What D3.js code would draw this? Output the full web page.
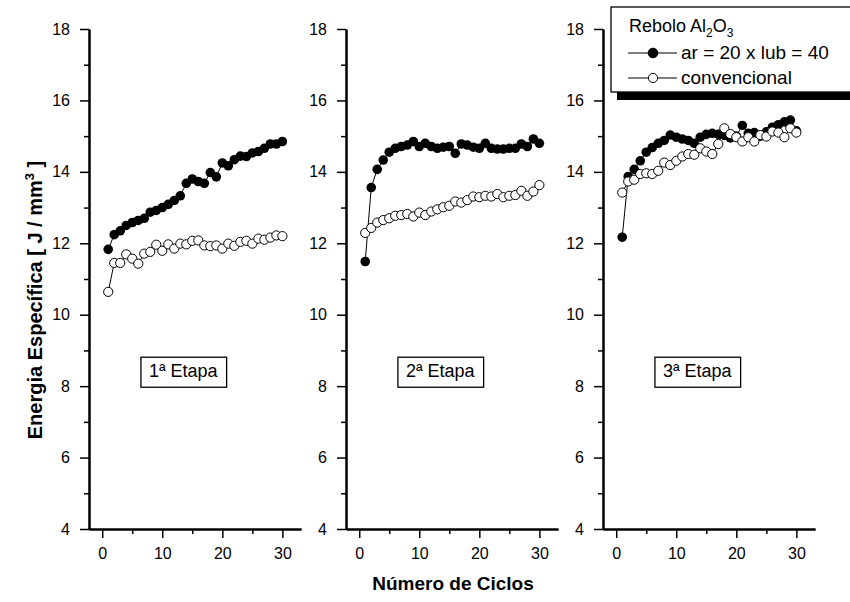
<!DOCTYPE html>
<html>
<head>
<meta charset="utf-8">
<script src="https://cdn.jsdelivr.net/npm/d3@7"></script>
<style>
  body { margin: 0; background: #fff; }
  text { font-family: "Liberation Sans", Arial, sans-serif; fill: #000; }
</style>
</head>
<body>
<div id="chart"></div>
<script>
// Data (cycles 1..30, energy in J/mm3)
let cycles = [1, 2, 3, 4, 5, 6, 7, 8, 9, 10, 11, 12, 13, 14, 15,
              16, 17, 18, 19, 20, 21, 22, 23, 24, 25, 26, 27, 28, 29, 30];

let stageNames = ["1ª Etapa", "2ª Etapa", "3ª Etapa"];
let seriesNames = ["ar = 20 x lub = 40", "convencional"];

// ar = 20 x lub = 40 (filled circles)
let arLub1 = [11.83, 12.24, 12.35, 12.50, 12.58, 12.64, 12.70, 12.87, 12.92, 13.00,
              13.09, 13.20, 13.33, 13.68, 13.80, 13.73, 13.68, 13.98, 13.86, 14.25,
              14.17, 14.34, 14.44, 14.43, 14.53, 14.57, 14.66, 14.78, 14.78, 14.85];
let arLub2 = [11.49, 13.56, 14.07, 14.33, 14.55, 14.66, 14.71, 14.75, 14.85, 14.71,
              14.80, 14.71, 14.66, 14.69, 14.71, 14.52, 14.78, 14.75, 14.69, 14.66,
              14.80, 14.66, 14.64, 14.64, 14.66, 14.66, 14.78, 14.71, 14.92, 14.80];
let arLub3 = [12.17, 13.87, 14.07, 14.31, 14.55, 14.68, 14.80, 14.88, 15.03, 14.97,
              14.92, 14.88, 14.80, 14.97, 15.05, 15.08, 15.05, 15.02, 14.95, 15.00,
              15.30, 15.08, 15.10, 15.00, 15.12, 15.25, 15.32, 15.40, 15.45, 15.15];

// convencional (open circles)
let conv1 = [10.64, 11.45, 11.45, 11.69, 11.57, 11.43, 11.71, 11.76, 11.96, 11.79,
             11.97, 11.85, 11.99, 11.97, 12.07, 12.08, 11.94, 11.92, 11.94, 11.85,
             11.99, 11.93, 12.04, 12.07, 11.99, 12.13, 12.10, 12.16, 12.22, 12.20];
let conv2 = [12.29, 12.43, 12.58, 12.65, 12.70, 12.77, 12.79, 12.82, 12.75, 12.86,
             12.79, 12.89, 12.95, 13.01, 13.05, 13.17, 13.14, 13.21, 13.31, 13.29,
             13.33, 13.31, 13.38, 13.29, 13.33, 13.35, 13.47, 13.33, 13.45, 13.63];
let conv3 = [13.42, 13.73, 13.78, 13.94, 13.96, 13.94, 14.03, 14.26, 14.19, 14.31,
             14.43, 14.50, 14.48, 14.66, 14.57, 14.50, 14.78, 15.22, 15.06, 14.97,
             14.85, 14.97, 14.85, 15.03, 14.99, 15.13, 15.10, 14.97, 15.22, 15.10];

let xTicks = [0, 10, 20, 30];
let xMinor = [5, 15, 25];
let yTicks = [4, 6, 8, 10, 12, 14, 16, 18];
let yMinor = [5, 7, 9, 11, 13, 15, 17];

let filledSeries = [arLub1, arLub2, arLub3];
let openSeries = [conv1, conv2, conv3];

// SVG size and panel geometry
let svgWidth = 850;
let svgHeight = 602;
let panelLeft = [89, 346, 603];
let panelWidth = 212;
let plotTop = 29;
let plotBottom = 529;

let svg = d3.select("#chart")
  .append("svg")
  .attr("width", svgWidth)
  .attr("height", svgHeight);

let yScale = d3.scaleLinear()
  .domain([4, 18])
  .range([plotBottom, plotTop]);

for (let p = 0; p < 3; p++) {
  let g = svg.append("g")
    .attr("transform", `translate(${panelLeft[p]}, 0)`);

  let xScale = d3.scaleLinear()
    .domain([-2.2, 33.1])
    .range([0, panelWidth]);

  // minor ticks first, then major
  g.append("g")
    .attr("class", "axis")
    .attr("transform", `translate(0, ${plotBottom})`)
    .call(d3.axisBottom(xScale).tickValues(xMinor).tickSize(5).tickSizeOuter(0).tickFormat(""));
  g.append("g")
    .attr("class", "axis")
    .attr("transform", `translate(0, ${plotBottom})`)
    .call(d3.axisBottom(xScale).tickValues(xTicks).tickSize(9).tickSizeOuter(0).tickPadding(10));

  g.append("g")
    .attr("class", "axis")
    .call(d3.axisLeft(yScale).tickValues(yMinor).tickSize(5).tickSizeOuter(0).tickFormat(""));
  g.append("g")
    .attr("class", "axis")
    .call(d3.axisLeft(yScale).tickValues(yTicks).tickSize(9).tickSizeOuter(0).tickPadding(10));

  let line = d3.line()
    .x((d, i) => xScale(cycles[i]))
    .y(d => yScale(d));

  // connecting lines
  g.append("path")
    .datum(filledSeries[p])
    .attr("d", line)
    .attr("fill", "none")
    .attr("stroke", "#000")
    .attr("stroke-width", 1);
  g.append("path")
    .datum(openSeries[p])
    .attr("d", line)
    .attr("fill", "none")
    .attr("stroke", "#000")
    .attr("stroke-width", 1);

  // filled markers
  g.append("g")
    .selectAll("circle")
    .data(filledSeries[p])
    .enter()
    .append("circle")
    .attr("cx", (d, i) => xScale(cycles[i]))
    .attr("cy", d => yScale(d))
    .attr("r", 4.8)
    .attr("fill", "#000");

  // open markers
  g.append("g")
    .selectAll("circle")
    .data(openSeries[p])
    .enter()
    .append("circle")
    .attr("cx", (d, i) => xScale(cycles[i]))
    .attr("cy", d => yScale(d))
    .attr("r", 4.6)
    .attr("fill", "#fff")
    .attr("stroke", "#000")
    .attr("stroke-width", 1);

  // stage label in a box
  let labelY = yScale(8.25);
  let label = g.append("text")
    .attr("x", xScale(13.5))
    .attr("y", labelY)
    .attr("text-anchor", "middle")
    .attr("font-size", 18)
    .text(stageNames[p]);
  let bb = label.node().getBBox();
  g.insert("rect", () => label.node())
    .attr("x", bb.x - 8)
    .attr("y", labelY - 20)
    .attr("width", bb.width + 16)
    .attr("height", 30)
    .attr("fill", "#fff")
    .attr("stroke", "#000")
    .attr("stroke-width", 1.3);
}

// axis styling
svg.selectAll(".axis path").attr("stroke", "#000").attr("stroke-width", 2);
svg.selectAll(".axis line").attr("stroke", "#000").attr("stroke-width", 1.5);
svg.selectAll(".axis text")
  .attr("font-size", 16)
  .attr("font-family", "'Liberation Sans', Arial, sans-serif")
  .attr("fill", "#000");

// axis titles
svg.append("text")
  .attr("x", 453)
  .attr("y", 590)
  .attr("text-anchor", "middle")
  .attr("font-size", 19)
  .attr("font-weight", "bold")
  .text("Número de Ciclos");

let yTitle = svg.append("text")
  .attr("transform", "translate(42, 300) rotate(-90)")
  .attr("text-anchor", "middle")
  .attr("font-size", 20)
  .attr("font-weight", "bold");
yTitle.append("tspan").text("Energia Específica [ J / mm");
yTitle.append("tspan").attr("dy", -8).attr("font-size", 13).text("3");
yTitle.append("tspan").attr("dy", 8).text(" ]");

// legend with drop shadow
svg.append("rect")
  .attr("x", 617).attr("y", 92)
  .attr("width", 240).attr("height", 8)
  .attr("fill", "#000");
svg.append("rect")
  .attr("x", 611).attr("y", 7)
  .attr("width", 245).attr("height", 85)
  .attr("fill", "#fff")
  .attr("stroke", "#000")
  .attr("stroke-width", 1.3);

let legTitle = svg.append("text")
  .attr("x", 629)
  .attr("y", 32)
  .attr("font-size", 18);
legTitle.append("tspan").text("Rebolo Al");
legTitle.append("tspan").attr("dy", 5).attr("font-size", 12).text("2");
legTitle.append("tspan").attr("dy", -5).text("O");
legTitle.append("tspan").attr("dy", 5).attr("font-size", 12).text("3");

let legRows = [53, 78];
legRows.forEach((ly, i) => {
  svg.append("line")
    .attr("x1", 628).attr("x2", 677)
    .attr("y1", ly).attr("y2", ly)
    .attr("stroke", "#000").attr("stroke-width", 1);
  svg.append("circle")
    .attr("cx", 653).attr("cy", ly)
    .attr("r", i === 0 ? 4.8 : 4.6)
    .attr("fill", i === 0 ? "#000" : "#fff")
    .attr("stroke", "#000").attr("stroke-width", 1);
  svg.append("text")
    .attr("x", 681)
    .attr("y", ly + 6)
    .attr("font-size", 19)
    .text(seriesNames[i]);
});
</script>
</body>
</html>
